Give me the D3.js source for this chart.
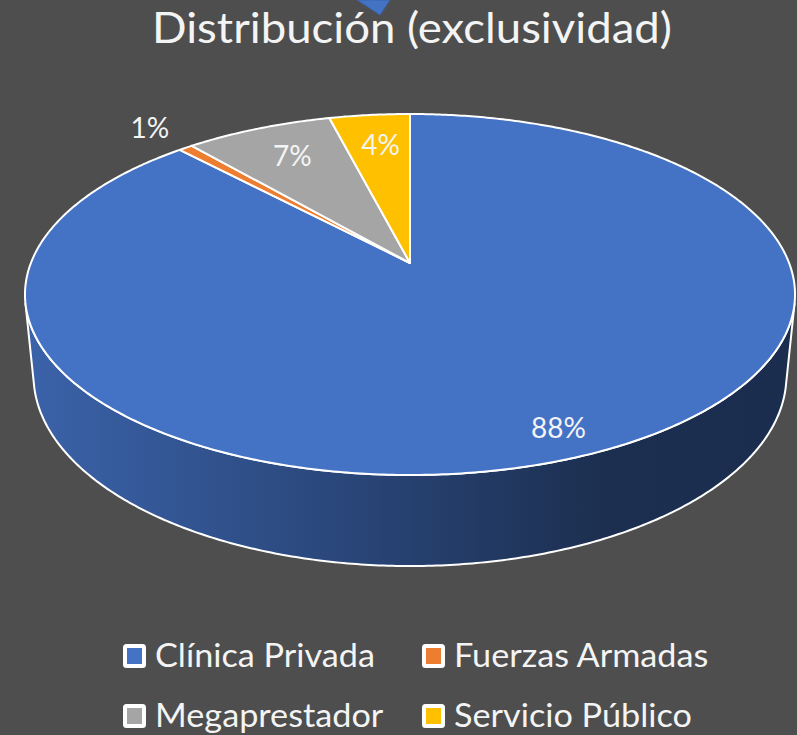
<!DOCTYPE html>
<html>
<head>
<meta charset="utf-8">
<script src="https://cdn.jsdelivr.net/npm/d3@7"></script>
<style>
html, body { margin: 0; padding: 0; background: #4e4e4e; }
svg { display: block; font-family: Lato, "Open Sans", sans-serif; }
</style>
</head>
<body>
<svg></svg>
<script>
var width = 797,
    height = 735;

// data
var title = "Distribución (exclusividad)";
var categories = ["Clínica Privada", "Fuerzas Armadas", "Megaprestador", "Servicio Público"];
var values = [88.0, 0.7, 7.3, 4.0];
var labels = ["88%", "1%", "7%", "4%"];
var colors = ["#4472c4", "#ed7d31", "#a5a5a5", "#ffc000"];

var svg = d3.select("svg")
    .attr("width", width)
    .attr("height", height);

svg.append("rect")
    .attr("width", width)
    .attr("height", height)
    .attr("fill", "#4e4e4e");

var defs = svg.append("defs");

// perspective camera looking down on the pie
var cx = 410, cy = 263,
    f = 1927, D = 5.083,
    tilt = Math.asin(0.4616),
    thick = 0.2434;

function project(a, r, z) {
    var x = r * Math.sin(a), y = r * Math.cos(a);
    var depth = D + y * Math.cos(tilt) - z * Math.sin(tilt);
    return [cx + f * x / depth, cy - f * (y * Math.sin(tilt) + z * Math.cos(tilt)) / depth];
}

function arcPoints(a0, a1, r, z) {
    var n = Math.max(2, Math.ceil(Math.abs(a1 - a0) / 0.01));
    return d3.range(n + 1).map(i => project(a0 + (a1 - a0) * i / n, r, z));
}

var line = d3.line();

var pie = d3.pie().sort(null).value(d => d);
var arcs = pie(values);

// title
svg.append("text")
    .attr("x", 412)
    .attr("y", 43)
    .attr("text-anchor", "middle")
    .attr("fill", "#f4f4f4")
    .attr("font-size", 42)
    .attr("textLength", 520)
    .attr("lengthAdjust", "spacingAndGlyphs")
    .text(title);

// bit of a blue shape cut off at the top
svg.append("path")
    .attr("d", "M357,0L390,0L380,15Z")
    .attr("fill", "#4472c4")
    .attr("stroke", "#3a62aa")
    .attr("stroke-width", 1);

// outer wall, only the front part can be seen
var k = Math.acos(-1 / (D * Math.cos(tilt)));
var vis0 = k, vis1 = 2 * Math.PI - k;

arcs.forEach((d, i) => {
    var s = Math.max(d.startAngle, vis0),
        e = Math.min(d.endAngle, vis1);
    if (e <= s) return;
    var base = d3.color(colors[i]);
    var grad = defs.append("linearGradient")
        .attr("id", "side" + i)
        .attr("gradientUnits", "userSpaceOnUse")
        .attr("x1", 25).attr("x2", 795)
        .attr("y1", 0).attr("y2", 0);
    [[0, 0.4], [0.36, 1.2], [0.75, 2.5], [1, 2.6]].forEach(st => {
        grad.append("stop")
            .attr("offset", st[0])
            .attr("stop-color", base.darker(st[1]).formatHex());
    });
    var pts = arcPoints(s, e, 1, 0).concat(arcPoints(e, s, 1, -thick));
    svg.append("path")
        .attr("d", line(pts) + "Z")
        .attr("fill", "url(#side" + i + ")")
        .attr("stroke", "#ffffff")
        .attr("stroke-width", 2)
        .attr("stroke-linejoin", "round");
});

// top face
svg.selectAll("path.slice")
    .data(arcs)
    .enter()
    .append("path")
    .attr("class", "slice")
    .attr("d", d => line([project(0, 0, 0)].concat(arcPoints(d.startAngle, d.endAngle, 1, 0))) + "Z")
    .attr("fill", (d, i) => colors[i])
    .attr("stroke", "#ffffff")
    .attr("stroke-width", 2)
    .attr("stroke-linejoin", "round");

// data labels
var total = d3.sum(values);
svg.selectAll("text.lbl")
    .data(arcs)
    .enter()
    .append("text")
    .attr("class", "lbl")
    .each(function(d, i) {
        var share = d.value / total;
        var r = share > 0.5 ? 0.87 : (share < 0.02 ? 1.2 : 0.77);
        var p = project((d.startAngle + d.endAngle) / 2, r, 0);
        d3.select(this)
            .attr("x", p[0] + (share > 0.5 ? 7 : 3))
            .attr("y", p[1])
            .attr("dy", "0.36em");
    })
    .attr("text-anchor", "middle")
    .attr("fill", "#f4f4f4")
    .attr("font-size", 28)
    .text((d, i) => labels[i]);

// legend
var legendX = [123, 422],
    legendY = [656, 716];
var legend = svg.selectAll("g.legend")
    .data(categories)
    .enter()
    .append("g")
    .attr("class", "legend")
    .attr("transform", (d, i) => "translate(" + legendX[i % 2] + "," + legendY[Math.floor(i / 2)] + ")");

legend.append("rect")
    .attr("x", 2)
    .attr("y", -10)
    .attr("width", 19)
    .attr("height", 20)
    .attr("rx", 1.5)
    .attr("fill", (d, i) => colors[i])
    .attr("stroke", "#ffffff")
    .attr("stroke-width", 4);

var legendText = legend.append("text")
    .attr("x", 32)
    .attr("y", 10.5)
    .attr("fill", "#f4f4f4")
    .attr("font-size", 33.5)
    .text(d => d);

// squeeze the legend text like the narrow original face
var refLen = legendText.filter((d, i) => i === 0).node().getComputedTextLength();
var squeeze = 220 / refLen;
legendText.each(function() {
    var w = this.getComputedTextLength();
    d3.select(this).attr("textLength", w * squeeze).attr("lengthAdjust", "spacingAndGlyphs");
});
</script>
</body>
</html>
